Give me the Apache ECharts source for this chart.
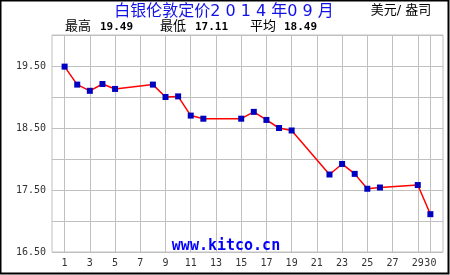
<!DOCTYPE html>
<html><head><meta charset="utf-8">
<script src="https://cdn.jsdelivr.net/npm/echarts@6/dist/echarts.min.js"></script>
<style>html,body{margin:0;padding:0;background:#fff}#c{width:450px;height:275px}</style>
</head><body><div id="c"></div>
<script>
var days = [1,2,3,4,5,8,9,10,11,12,15,16,17,18,19,22,23,24,25,26,29,30];
var prices = [19.49,19.20,19.10,19.21,19.13,19.20,19.00,19.01,18.70,18.65,18.65,18.76,18.63,18.50,18.46,17.75,17.92,17.76,17.52,17.54,17.58,17.11];
var xTicks = [1,3,5,7,9,11,13,15,17,19,21,23,25,27,29,30];
var yLabels = [16.5,17.5,18.5,19.5];
var titleText = '白银伦敦定价2 0 1 4 年0 9 月';
var unitText = '美元/ 盎司';
var siteText = 'www.kitco.cn';

var maxV = Math.max.apply(null, prices), minV = Math.min.apply(null, prices);
var avgV = prices.reduce(function(a,b){return a+b;},0)/prices.length;

var xMin = 0, xMax = 31;
var xGridColors = [];
for (var t = xMin; t <= xMax; t++) {
  xGridColors.push(xTicks.indexOf(t) >= 0 ? '#c0c0c0' : 'rgba(0,0,0,0)');
}

var chart = echarts.init(document.getElementById('c'));
var mono = '"DejaVu Sans Mono"';
var cjk = '"DejaVu Sans", "Noto Sans CJK SC"';
chart.setOption({
  animation:false,
  backgroundColor:'#fff',
  grid:{left:52,right:7,top:35,bottom:23,show:true,borderColor:'#c0c0c0',borderWidth:1},
  xAxis:{type:'value',min:xMin,max:xMax,interval:1,
    axisLine:{show:false},
    axisTick:{show:false},
    axisLabel:{customValues:xTicks,showMaxLabel:true,color:'#333',fontFamily:'DejaVu Sans Mono',fontSize:10,margin:6},
    splitLine:{show:true,lineStyle:{color:xGridColors,width:1}}},
  yAxis:{type:'value',min:16.5,max:20,interval:0.5,
    axisLine:{show:false},axisTick:{show:false},
    axisLabel:{color:'#333',fontFamily:'DejaVu Sans Mono',fontSize:10,margin:6,
      formatter:function(v){return yLabels.some(function(y){return Math.abs(y-v)<1e-6;})?v.toFixed(2):'';}},
    splitLine:{show:true,lineStyle:{color:'#c0c0c0',width:1}}},
  graphic:[
    {type:'rect',shape:{x:0.5,y:0.5,width:448,height:273},style:{fill:'none',stroke:'#000',lineWidth:2},z:100},
    {type:'text',x:224,y:12,style:{text:titleText,fill:'#1010e8',font:'16px '+cjk,textAlign:'center',textVerticalAlign:'middle'}},
    {type:'text',x:401,y:11,style:{text:unitText,fill:'#000',font:'13px '+cjk,textAlign:'center',textVerticalAlign:'middle'}},
    {type:'text',x:65,y:27,style:{text:'最高',fill:'#000',font:'13px '+cjk,textVerticalAlign:'middle'}},
    {type:'text',x:100,y:27,style:{text:maxV.toFixed(2),fill:'#000',font:'bold 11px '+mono,textVerticalAlign:'middle'}},
    {type:'text',x:160,y:27,style:{text:'最低',fill:'#000',font:'13px '+cjk,textVerticalAlign:'middle'}},
    {type:'text',x:195,y:27,style:{text:minV.toFixed(2),fill:'#000',font:'bold 11px '+mono,textVerticalAlign:'middle'}},
    {type:'text',x:250,y:27,style:{text:'平均',fill:'#000',font:'13px '+cjk,textVerticalAlign:'middle'}},
    {type:'text',x:284,y:27,style:{text:avgV.toFixed(2),fill:'#000',font:'bold 11px '+mono,textVerticalAlign:'middle'}},
    {type:'text',x:226,y:246,style:{text:siteText,fill:'#0000ff',font:'bold 15px '+mono,textAlign:'center',textVerticalAlign:'middle'},z:50}
  ],
  series:[
    {type:'line',data:days.map(function(d,i){return [d,prices[i]];}),
      lineStyle:{color:'#ff0000',width:1.5},
      symbol:'rect',symbolSize:6,itemStyle:{color:'#0000c0'},z:3}]
});
</script></body></html>
